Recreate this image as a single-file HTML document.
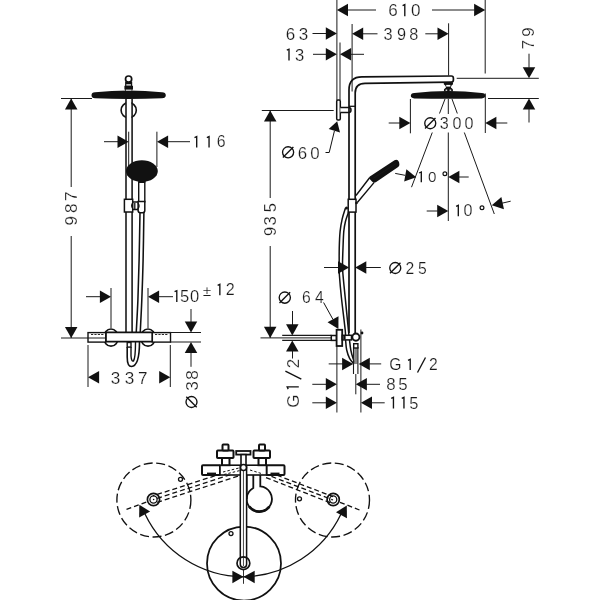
<!DOCTYPE html>
<html><head><meta charset="utf-8"><style>
html,body{margin:0;padding:0;background:#fff;}
svg{display:block;will-change:transform;}
line{stroke:#1a1a1a;}
.s{stroke:#111;fill:none;}
.sw{stroke:#111;fill:#fff;}
.f{fill:#111;stroke:none;}
text{font-family:"Liberation Sans",sans-serif;fill:#1a1a1a;text-anchor:middle;stroke:#fff;stroke-width:0.2px;}
</style></head><body>
<svg width="600" height="600" viewBox="0 0 600 600">
<rect width="600" height="600" fill="#fff"/>
<line x1="61.00" y1="98.50" x2="92.00" y2="98.50" stroke-width="1.0" />
<line x1="61.00" y1="338.00" x2="90.00" y2="338.00" stroke-width="1.0" />
<line x1="71.20" y1="98.50" x2="71.20" y2="187.00" stroke-width="1.0" />
<line x1="71.20" y1="236.00" x2="71.20" y2="338.00" stroke-width="1.0" />
<polygon class="f" points="71.20,98.50 77.45,109.60 64.95,109.60"/>
<polygon class="f" points="71.20,338.00 64.95,326.90 77.45,326.90"/>
<g transform="translate(76.50,0) rotate(-90)">
<text x="-220.75" y="0" font-size="17.14">9</text>
<text x="-208.25" y="0" font-size="17.14">8</text>
<text x="-196.25" y="0" font-size="17.14">7</text>
</g>
<path class="f" d="M95,92.2 Q128.5,89 162,92.2 Q165.8,92.4 165.8,95.2 Q165.8,98 162,98.3 Q128.5,99.8 95,98.3 Q91.5,98 91.5,95.2 Q91.5,92.4 95,92.2 Z"/>
<rect class="f" x="125.1" y="81.6" width="7.1" height="9.4"/>
<rect class="f" x="124.4" y="85.8" width="8.6" height="3.8"/>
<circle class="sw" stroke-width="1.7" cx="128.6" cy="79.1" r="3.1"/>
<rect fill="#fff" x="126.3" y="84.3" width="4.6" height="1.2"/>
<rect fill="#fff" x="125.8" y="89.6" width="5.8" height="1.1"/>
<circle class="s" stroke-width="1.6" cx="128.7" cy="110.2" r="7.6"/>
<rect fill="#fff" x="126" y="99" width="5.4" height="233"/>
<line x1="126.00" y1="98.70" x2="126.00" y2="333.00" stroke-width="1.6" />
<line x1="132.10" y1="98.70" x2="132.10" y2="333.00" stroke-width="1.6" />
<line x1="128.70" y1="131.70" x2="128.70" y2="166.00" stroke-width="1.0" />
<line x1="156.90" y1="131.70" x2="156.90" y2="167.00" stroke-width="1.0" />
<line x1="104.00" y1="141.70" x2="118.00" y2="141.70" stroke-width="1.0" />
<line x1="168.00" y1="141.70" x2="190.00" y2="141.70" stroke-width="1.0" />
<polygon class="f" points="128.60,141.70 117.50,147.95 117.50,135.45"/>
<polygon class="f" points="157.00,141.70 168.10,135.45 168.10,147.95"/>
<path class="s" stroke-width="1.35" d="M194.50,137.60 L196.70,136.60 L196.70,147.40"/>
<path class="s" stroke-width="1.35" d="M206.85,137.60 L209.05,136.60 L209.05,147.40"/>
<text x="221.15" y="147.40" font-size="15.86">6</text>
<ellipse class="f" cx="141.9" cy="171.1" rx="15.9" ry="10.8"/>
<path class="f" d="M137.5,179 L146.5,179 L144.6,184.2 L139.2,184.2 Z"/>
<rect class="sw" stroke-width="1.4" x="138.7" y="182.3" width="6.1" height="19.5"/>
<path class="s" stroke-width="1.55" d="M140.00,212.00 C139.85,220.00 139.45,245.33 139.10,260.00 C138.75,274.67 138.38,287.83 137.90,300.00 C137.42,312.17 136.48,327.50 136.20,333.00"/>
<path class="s" stroke-width="1.55" d="M143.90,212.00 C143.77,220.00 143.45,245.33 143.10,260.00 C142.75,274.67 142.28,287.83 141.80,300.00 C141.32,312.17 140.47,327.50 140.20,333.00"/>
<rect class="sw" stroke-width="1.5" x="124.4" y="199.3" width="8.3" height="12.7"/>
<path class="sw" stroke-width="1.5" d="M138.1,201.6 L144.8,201.6 L144.8,210.5 Q144.8,212.7 142.6,212.7 L140.3,212.7 Q138.1,212.7 138.1,210.5 Z"/>
<path class="s" stroke-width="1.3" d="M132.7,202 L138.1,202 M132.7,209.5 L138.1,209.5 M132.8,203 Q130.6,205.8 132.8,208.6 M137.9,203.2 Q140.2,206 137.9,208.8 M134.8,203 L134.8,209"/>
<line x1="111.00" y1="288.00" x2="111.00" y2="328.00" stroke-width="1.0" />
<line x1="148.00" y1="288.00" x2="148.00" y2="328.00" stroke-width="1.0" />
<line x1="86.00" y1="296.70" x2="100.50" y2="296.70" stroke-width="1.0" />
<line x1="158.50" y1="296.70" x2="173.00" y2="296.70" stroke-width="1.0" />
<polygon class="f" points="111.00,296.70 99.90,302.95 99.90,290.45"/>
<polygon class="f" points="148.00,296.70 159.10,290.45 159.10,302.95"/>
<path class="s" stroke-width="1.35" d="M174.60,291.70 L176.80,290.70 L176.80,302.00"/>
<text x="184.65" y="302.00" font-size="16.57">5</text>
<text x="194.65" y="302.00" font-size="16.57">0</text>
<text x="207" y="295.5" font-size="15.5" text-anchor="middle">±</text>
<path class="s" stroke-width="1.35" d="M217.65,285.30 L219.85,284.30 L219.85,295.30"/>
<text x="230.30" y="295.30" font-size="16.14">2</text>
<ellipse class="s" stroke-width="1.7" cx="111" cy="337.6" rx="7.3" ry="8.6"/>
<ellipse class="s" stroke-width="1.7" cx="148" cy="337.6" rx="7.3" ry="8.6"/>
<rect class="sw" stroke-width="1.4" x="88" y="332.6" width="17.8" height="9.5"/>
<rect class="sw" stroke-width="1.4" x="152.2" y="332.6" width="18.3" height="9.5"/>
<line x1="88.00" y1="338.00" x2="106.00" y2="338.00" stroke-width="1.0" />
<rect class="sw" stroke-width="1.7" x="106" y="332.4" width="46.2" height="9.3" rx="1"/>
<path class="s" stroke-width="0.9" stroke-dasharray="2.2,1.2" d="M91,334.5 L103.5,334.5 M155,334.5 L167.5,334.5"/>
<path class="s" stroke-width="1.6" d="M127.2,347 L127.2,357 Q127.2,366.5 131.5,366.5 Q139.5,366 139.5,342"/>
<path class="s" stroke-width="1.4" d="M131,347 L131,356 Q131.5,362 133.5,361 Q135.5,358 135.5,342"/>
<rect class="sw" stroke-width="1.4" x="127.2" y="342.5" width="3.8" height="4.6"/>
<line x1="88.00" y1="345.00" x2="88.00" y2="387.00" stroke-width="1.0" />
<line x1="170.30" y1="345.00" x2="170.30" y2="387.00" stroke-width="1.0" />
<polygon class="f" points="88.00,377.30 99.10,371.05 99.10,383.55"/>
<polygon class="f" points="170.30,377.30 159.20,383.55 159.20,371.05"/>
<text x="115.40" y="383.50" font-size="17.14">3</text>
<text x="129.40" y="383.50" font-size="17.14">3</text>
<text x="142.75" y="383.50" font-size="17.14">7</text>
<line x1="170.00" y1="332.50" x2="201.00" y2="332.50" stroke-width="1.0" />
<line x1="170.00" y1="342.00" x2="201.00" y2="342.00" stroke-width="1.0" />
<line x1="191.00" y1="309.00" x2="191.00" y2="322.00" stroke-width="1.0" />
<line x1="191.00" y1="352.00" x2="191.00" y2="366.80" stroke-width="1.0" />
<polygon class="f" points="191.00,332.50 184.75,321.40 197.25,321.40"/>
<polygon class="f" points="191.00,342.00 197.25,353.10 184.75,353.10"/>
<g transform="translate(197.50,0) rotate(-90)">
<circle class="s" stroke-width="1.35" cx="-402.00" cy="-6.00" r="5.5"/>
<line class="s" stroke-width="1.35" x1="-407.23" y1="-0.78" x2="-396.77" y2="-11.22"/>
<text x="-386.00" y="0" font-size="17.14">3</text>
<text x="-374.90" y="0" font-size="17.14">8</text>
</g>
<line x1="336.90" y1="0.00" x2="336.90" y2="100.00" stroke-width="1.0" />
<line x1="340.00" y1="42.50" x2="340.00" y2="100.00" stroke-width="1.0" />
<line x1="352.10" y1="24.00" x2="352.10" y2="91.50" stroke-width="1.0" />
<line x1="448.60" y1="23.30" x2="448.60" y2="75.50" stroke-width="1.0" />
<line x1="485.20" y1="0.00" x2="485.20" y2="73.50" stroke-width="1.0" />
<line x1="456.70" y1="78.30" x2="538.80" y2="78.30" stroke-width="1.0" />
<line x1="488.00" y1="98.50" x2="538.80" y2="98.50" stroke-width="1.0" />
<line x1="410.40" y1="99.00" x2="410.40" y2="133.30" stroke-width="1.0" />
<line x1="485.30" y1="93.50" x2="485.30" y2="133.00" stroke-width="1.0" />
<line x1="261.80" y1="110.50" x2="333.70" y2="110.50" stroke-width="1.0" />
<line x1="347.50" y1="10.00" x2="376.00" y2="10.00" stroke-width="1.0" />
<line x1="432.00" y1="10.00" x2="474.50" y2="10.00" stroke-width="1.0" />
<polygon class="f" points="336.90,10.00 348.00,3.75 348.00,16.25"/>
<polygon class="f" points="485.20,10.00 474.10,16.25 474.10,3.75"/>
<text x="393.10" y="16.25" font-size="17.07">6</text>
<path class="s" stroke-width="1.35" d="M402.60,5.60 L404.80,4.60 L404.80,16.25"/>
<text x="415.75" y="16.25" font-size="17.07">0</text>
<line x1="312.50" y1="33.50" x2="326.00" y2="33.50" stroke-width="1.0" />
<polygon class="f" points="336.90,33.50 325.80,39.75 325.80,27.25"/>
<text x="290.60" y="39.90" font-size="17.00">6</text>
<text x="303.50" y="39.90" font-size="17.00">3</text>
<line x1="362.50" y1="33.80" x2="377.50" y2="33.80" stroke-width="1.0" />
<line x1="425.30" y1="33.80" x2="438.00" y2="33.80" stroke-width="1.0" />
<polygon class="f" points="352.10,33.80 363.20,27.55 363.20,40.05"/>
<polygon class="f" points="448.60,33.80 437.50,40.05 437.50,27.55"/>
<text x="388.10" y="39.70" font-size="16.29">3</text>
<text x="401.50" y="39.70" font-size="16.29">9</text>
<text x="413.75" y="39.70" font-size="16.29">8</text>
<line x1="313.00" y1="54.30" x2="326.00" y2="54.30" stroke-width="1.0" />
<polygon class="f" points="336.90,54.30 325.80,60.55 325.80,48.05"/>
<polygon class="f" points="340.00,54.30 351.10,48.05 351.10,60.55"/>
<line x1="350.50" y1="54.30" x2="364.00" y2="54.30" stroke-width="1.0" />
<path class="s" stroke-width="1.35" d="M286.80,50.20 L289.00,49.20 L289.00,60.50"/>
<text x="299.70" y="60.50" font-size="16.57">3</text>
<line x1="529.00" y1="53.70" x2="529.00" y2="67.70" stroke-width="1.0" />
<polygon class="f" points="529.00,78.30 522.75,67.20 535.25,67.20"/>
<polygon class="f" points="529.00,98.50 535.25,109.60 522.75,109.60"/>
<line x1="529.00" y1="109.00" x2="529.00" y2="122.50" stroke-width="1.0" />
<g transform="translate(533.70,0) rotate(-90)">
<text x="-44.70" y="0" font-size="16.71">7</text>
<text x="-32.00" y="0" font-size="16.71">9</text>
</g>
<line x1="388.70" y1="123.00" x2="400.00" y2="123.00" stroke-width="1.0" />
<polygon class="f" points="410.40,123.00 399.30,129.25 399.30,116.75"/>
<polygon class="f" points="485.30,123.00 496.40,116.75 496.40,129.25"/>
<line x1="496.00" y1="123.00" x2="507.30" y2="123.00" stroke-width="1.0" />
<circle class="s" stroke-width="1.35" cx="430.25" cy="123.25" r="5.5"/>
<line class="s" stroke-width="1.35" x1="425.02" y1="128.47" x2="435.48" y2="118.03"/>
<text x="444.25" y="128.80" font-size="16.14">3</text>
<text x="457.00" y="128.80" font-size="16.14">0</text>
<text x="469.00" y="128.80" font-size="16.14">0</text>
<rect class="sw" stroke-width="1.5" x="336.7" y="100" width="3.6" height="20" rx="1.2"/>
<path class="sw" stroke-width="1.5" d="M340.3,107.5 L348.7,107.5 Q351,107.5 351,110 Q351,112.5 348.7,112.5 L340.3,112.5"/>
<path class="s" stroke-width="1.7" d="M349,333 L349,90 Q349,76.9 362,76.9 L451.3,76 Q453.4,76 453.4,78.2 L453.4,80 Q453.4,82.2 451,82.2 L365,83.3 Q355.2,83.3 355.2,93 L355.2,333"/>
<line class="s" stroke-width="1.3" x1="349" y1="106.3" x2="355.2" y2="106.3"/>
<path class="f" d="M443.8,82.2 L453,82.2 L453,84.2 Q450.8,85.8 450.9,87.4 L452.8,89.3 L453,91.6 L443.9,91.6 L444,89.3 L446,87.4 Q446,85.8 443.8,84.2 Z"/>
<rect fill="#fff" x="446.2" y="84.9" width="4.2" height="1.7"/>
<rect fill="#fff" x="445.6" y="89.6" width="1.6" height="1.2"/>
<rect fill="#fff" x="449.6" y="89.6" width="1.6" height="1.2"/>
<path class="f" d="M414.3,93 Q448,89.2 481.8,93 Q485.4,93.2 485.4,95.8 Q485.4,98.2 481.8,98.4 Q448,99.3 414.3,98.4 Q410.8,98.2 410.8,95.8 Q410.8,93.2 414.3,93 Z"/>
<line x1="448.30" y1="99.00" x2="448.30" y2="114.00" stroke-width="1.0" />
<line x1="448.30" y1="132.50" x2="448.30" y2="221.00" stroke-width="1.0" />
<line x1="445.00" y1="99.00" x2="439.49" y2="113.50" stroke-width="1.0" />
<line x1="432.28" y1="132.50" x2="411.50" y2="187.20" stroke-width="1.0" />
<line x1="452.00" y1="99.00" x2="457.33" y2="113.50" stroke-width="1.0" />
<line x1="464.32" y1="132.50" x2="494.30" y2="214.00" stroke-width="1.0" />
<line x1="395.20" y1="173.40" x2="405.00" y2="175.30" stroke-width="1.0" />
<polygon class="f" points="416.20,177.30 404.16,181.47 406.39,169.17"/>
<polygon class="f" points="448.30,177.00 459.40,170.75 459.40,183.25"/>
<line x1="458.80" y1="177.00" x2="468.70" y2="177.00" stroke-width="1.0" />
<path class="s" stroke-width="1.35" d="M419.10,173.00 L421.30,172.00 L421.30,182.30"/>
<text x="432.30" y="182.30" font-size="15.14">0</text>
<circle class="s" stroke-width="1.2" cx="444.9" cy="173.7" r="1.9"/>
<line x1="426.70" y1="211.00" x2="437.80" y2="211.00" stroke-width="1.0" />
<polygon class="f" points="448.30,211.00 437.20,217.25 437.20,204.75"/>
<line x1="510.70" y1="201.20" x2="502.00" y2="203.20" stroke-width="1.0" />
<polygon class="f" points="491.80,205.30 501.37,196.90 503.95,209.13"/>
<path class="s" stroke-width="1.35" d="M456.10,206.30 L458.30,205.30 L458.30,216.30"/>
<text x="468.00" y="216.30" font-size="16.14">0</text>
<circle class="s" stroke-width="1.2" cx="482" cy="207.7" r="1.9"/>
<line x1="270.20" y1="110.50" x2="270.20" y2="198.00" stroke-width="1.0" />
<line x1="270.20" y1="246.00" x2="270.20" y2="337.90" stroke-width="1.0" />
<polygon class="f" points="270.20,110.50 276.45,121.60 263.95,121.60"/>
<polygon class="f" points="270.20,337.90 263.95,326.80 276.45,326.80"/>
<g transform="translate(275.60,0) rotate(-90)">
<text x="-231.40" y="0" font-size="16.57">9</text>
<text x="-221.00" y="0" font-size="16.57">3</text>
<text x="-207.70" y="0" font-size="16.57">5</text>
</g>
<circle class="s" stroke-width="1.35" cx="288.10" cy="152.30" r="5.55"/>
<line class="s" stroke-width="1.35" x1="282.83" y1="157.57" x2="293.37" y2="147.03"/>
<text x="302.50" y="158.50" font-size="16.86">6</text>
<text x="315.00" y="158.50" font-size="16.86">0</text>
<path class="s" stroke-width="1" d="M325.5,152.5 L329.2,152.5 L334.4,131"/>
<polygon class="f" points="337.20,121.30 340.04,132.38 328.73,128.99"/>
<path class="f" d="M369.8,176.4 L394.5,160.2 Q397.6,158.7 399,162 L399.4,164.3 Q399.6,166.2 397.8,167.2 L376.2,181.9 Q373.6,183.2 372,181.6 L369.3,178.5 Q368.7,177.3 369.8,176.4 Z"/>
<line x1="373.5" y1="178.2" x2="396" y2="163.6" stroke="#444" stroke-width="0.9"/>
<path class="s" stroke-width="1.4" d="M356,195.5 L369.6,177.8 M357.3,202.5 L374.2,182.4"/>
<rect class="sw" stroke-width="1.5" x="348.2" y="199.3" width="7.8" height="12.8"/>
<circle class="f" cx="356.5" cy="203" r="1.3"/>
<path class="s" stroke-width="1.5" d="M345.50,208.00 C344.95,209.80 343.10,214.92 342.20,218.80 C341.30,222.68 340.59,226.43 340.10,231.30 C339.61,236.17 339.40,242.38 339.25,248.00 C339.10,253.62 339.18,260.50 339.20,265.00 C339.22,269.50 339.03,269.58 339.40,275.00 C339.77,280.42 340.43,288.33 341.40,297.50 C342.37,306.67 344.50,322.92 345.20,330.00 C345.90,337.08 345.35,336.67 345.60,340.00 C345.85,343.33 346.03,346.95 346.70,350.00 C347.37,353.05 348.38,355.97 349.60,358.30 C350.82,360.63 353.27,363.05 354.00,364.00"/>
<path class="s" stroke-width="1.5" d="M348.40,212.60 C347.92,214.05 346.27,218.18 345.50,221.30 C344.73,224.42 344.22,226.85 343.80,231.30 C343.38,235.75 343.22,242.38 343.00,248.00 C342.78,253.62 342.50,260.50 342.50,265.00 C342.50,269.50 342.55,269.58 343.00,275.00 C343.45,280.42 344.30,288.33 345.20,297.50 C346.10,306.67 347.68,322.92 348.40,330.00 C349.12,337.08 349.10,336.67 349.50,340.00 C349.90,343.33 350.22,346.95 350.80,350.00 C351.38,353.05 352.22,355.97 353.00,358.30 C353.78,360.63 355.08,363.05 355.50,364.00"/>
<circle class="f" cx="346.5" cy="208" r="1.5"/>
<line x1="324.00" y1="267.50" x2="338.50" y2="267.50" stroke-width="1.0" />
<polygon class="f" points="349.10,267.50 338.00,273.75 338.00,261.25"/>
<polygon class="f" points="355.20,267.50 366.30,261.25 366.30,273.75"/>
<line x1="365.60" y1="267.50" x2="380.80" y2="267.50" stroke-width="1.0" />
<circle class="s" stroke-width="1.35" cx="395.25" cy="268.00" r="5.5"/>
<line class="s" stroke-width="1.35" x1="390.02" y1="273.23" x2="400.48" y2="262.77"/>
<text x="409.75" y="273.50" font-size="15.71">2</text>
<text x="422.35" y="273.50" font-size="15.71">5</text>
<circle class="s" stroke-width="1.35" cx="284.80" cy="297.60" r="5.6"/>
<line class="s" stroke-width="1.35" x1="279.48" y1="302.92" x2="290.12" y2="292.28"/>
<text x="306.40" y="302.90" font-size="15.71">6</text>
<text x="319.30" y="302.90" font-size="15.71">4</text>
<line class="s" stroke-width="1" x1="323.6" y1="302.5" x2="333" y2="319.5"/>
<polygon class="f" points="338.40,329.00 327.56,322.31 338.50,316.26"/>
<line x1="292.50" y1="311.00" x2="292.50" y2="325.00" stroke-width="1.0" />
<polygon class="f" points="292.30,335.40 286.05,324.30 298.55,324.30"/>
<polygon class="f" points="292.30,340.40 298.55,351.50 286.05,351.50"/>
<line x1="292.50" y1="351.00" x2="292.50" y2="358.50" stroke-width="1.0" />
<g transform="translate(298.80,0) rotate(-90)">
<text x="-401.10" y="0" font-size="17.00">G</text>
<path class="s" stroke-width="1.35" d="M-389.10,-10.60 L-386.90,-11.60 L-386.90,0.00"/>
<line class="s" stroke-width="1.35" x1="-379.20" y1="2.5" x2="-371.20" y2="-13.40"/>
<text x="-363.50" y="0" font-size="17.00">2</text>
</g>
<line x1="260.50" y1="337.90" x2="331.50" y2="337.90" stroke-width="1.0" />
<line x1="282.20" y1="335.40" x2="331.50" y2="335.40" stroke-width="1.2" />
<line x1="282.20" y1="340.40" x2="331.50" y2="340.40" stroke-width="1.2" />
<rect class="sw" stroke-width="1.5" x="331.3" y="335.5" width="5.2" height="4.9"/>
<rect class="sw" stroke-width="1.8" x="336.6" y="329.8" width="5.6" height="16.2"/>
<rect class="sw" stroke-width="1.5" x="342.2" y="335.3" width="9.3" height="4.6"/>
<rect class="f" x="343.2" y="335.8" width="2.4" height="3.6"/>
<rect fill="#888" x="354.2" y="348" width="3.3" height="16"/>
<line x1="353.50" y1="347.00" x2="353.50" y2="374.00" stroke-width="1.1" />
<line x1="357.90" y1="347.00" x2="357.90" y2="374.00" stroke-width="1.1" />
<circle class="sw" stroke-width="1.9" cx="355.9" cy="337.1" r="3.6"/>
<rect class="sw" stroke-width="1.4" x="353.7" y="343.7" width="4.2" height="4.3"/>
<circle class="f" cx="362" cy="333" r="1.4"/>
<line x1="336.90" y1="346.00" x2="336.90" y2="412.50" stroke-width="1.0" />
<line x1="360.90" y1="329.50" x2="360.90" y2="412.50" stroke-width="1.0" />
<line x1="355.80" y1="374.00" x2="355.80" y2="394.30" stroke-width="1.0" />
<line x1="328.70" y1="363.90" x2="343.00" y2="363.90" stroke-width="1.0" />
<polygon class="f" points="353.20,363.90 342.10,370.15 342.10,357.65"/>
<polygon class="f" points="358.70,363.90 369.80,357.65 369.80,370.15"/>
<line x1="368.50" y1="363.90" x2="381.20" y2="363.90" stroke-width="1.0" />
<text x="395.25" y="370.00" font-size="15.71">G</text>
<path class="s" stroke-width="1.35" d="M408.00,360.30 L410.20,359.30 L410.20,370.00"/>
<line class="s" stroke-width="1.35" x1="417.50" y1="372.50" x2="425.50" y2="357.50"/>
<text x="433.25" y="370.00" font-size="15.71">2</text>
<line x1="312.30" y1="384.30" x2="326.30" y2="384.30" stroke-width="1.0" />
<polygon class="f" points="336.90,384.30 325.80,390.55 325.80,378.05"/>
<polygon class="f" points="355.80,384.30 366.90,378.05 366.90,390.55"/>
<line x1="366.00" y1="384.30" x2="380.00" y2="384.30" stroke-width="1.0" />
<text x="391.00" y="390.30" font-size="16.86">8</text>
<text x="403.00" y="390.30" font-size="16.86">5</text>
<line x1="312.30" y1="402.80" x2="326.30" y2="402.80" stroke-width="1.0" />
<polygon class="f" points="336.90,402.80 325.80,409.05 325.80,396.55"/>
<polygon class="f" points="360.90,402.80 372.00,396.55 372.00,409.05"/>
<line x1="371.50" y1="402.80" x2="384.70" y2="402.80" stroke-width="1.0" />
<path class="s" stroke-width="1.35" d="M391.25,398.30 L393.45,397.30 L393.45,408.50"/>
<path class="s" stroke-width="1.35" d="M401.75,398.30 L403.95,397.30 L403.95,408.50"/>
<text x="413.75" y="408.50" font-size="16.43">5</text>
<circle class="s" stroke-width="1.35" stroke-dasharray="9,3.6" cx="153.9" cy="500" r="37"/>
<circle class="s" stroke-width="1.35" stroke-dasharray="9,3.6" cx="332.5" cy="500" r="37"/>
<circle class="s" stroke-width="1.75" cx="244" cy="563.5" r="37"/>
<path class="s" stroke-width="1.3" d="M145,514 A110.4,110.4 0 0 0 243.5,576.8 A110.4,110.4 0 0 0 341,514"/>
<polygon class="f" points="139.30,504.80 150.13,511.51 139.17,517.54"/>
<polygon class="f" points="346.80,505.50 346.93,518.24 335.97,512.21"/>
<path class="s" stroke-width="1.3" stroke-dasharray="5,3" d="M238,468.35 L153,495.8 M238,472.25 L153,499.7 M238,476.15 L155,503"/>
<path class="s" stroke-width="1.3" stroke-dasharray="5,3" d="M126.5,509.3 L148,501.5"/>
<path class="s" stroke-width="1.3" stroke-dasharray="5,3" d="M262,469.5 L333,496.6 M264,473.6 L333,500 M266,477.6 L331,503"/>
<path class="s" stroke-width="1.3" stroke-dasharray="5,3" d="M359.5,510 L338,501.5"/>
<circle class="s" stroke-width="1.7" cx="153.5" cy="499.5" r="6.1"/>
<circle class="s" stroke-width="1.3" cx="153.5" cy="499.5" r="3.6"/>
<circle class="s" stroke-width="1.7" cx="333.2" cy="499.5" r="6.1"/>
<circle class="s" stroke-width="1.3" cx="333.2" cy="499.5" r="3.6"/>
<circle class="s" stroke-width="1.3" cx="180.5" cy="479.3" r="2"/>
<circle class="s" stroke-width="1.3" cx="299.5" cy="498.8" r="2"/>
<path class="sw" stroke-width="1.8" d="M253.3,474 L253.3,487.92 A12.6,12.6 0 1 0 260.3,486.44 L260.3,474"/>
<path class="s" stroke-width="2.6" d="M249.18,506.50 A12.6,12.6 0 0 0 269.42,506.50"/>
<line class="s" stroke-width="1.6" x1="246.8" y1="475" x2="246.8" y2="499.0"/>
<rect class="sw" stroke-width="2" x="202" y="465.2" width="18" height="9.8" rx="1"/>
<rect class="sw" stroke-width="2" x="266.5" y="465.2" width="18" height="9.8" rx="1"/>
<rect class="sw" stroke-width="1.6" x="220" y="465.2" width="46.5" height="9.8"/>
<path class="s" stroke-width="1" stroke-dasharray="2.5,2" d="M223,472 L239,468 M224,474.5 L240,470.5 M250,470 L263,474"/>
<rect class="f" x="207" y="472.6" width="9" height="1.6"/>
<rect class="f" x="270.5" y="472.6" width="9" height="1.6"/>
<rect class="sw" stroke-width="2" x="222" y="458" width="7.5" height="7.2"/>
<rect class="sw" stroke-width="2" x="217" y="450.6" width="16.5" height="7.4" rx="0.8"/>
<rect class="sw" stroke-width="2" x="222.5" y="444.6" width="6" height="6" rx="0.8"/>
<rect class="sw" stroke-width="2" x="258.5" y="458" width="7.5" height="7.2"/>
<rect class="sw" stroke-width="2" x="253.5" y="450.6" width="16.5" height="7.4" rx="0.8"/>
<rect class="sw" stroke-width="2" x="259" y="444.6" width="6" height="6" rx="0.8"/>
<rect class="sw" stroke-width="1.8" x="236.2" y="451" width="14.3" height="3.6"/>
<rect class="sw" stroke-width="1.6" x="241" y="454.6" width="5" height="10.6"/>
<path class="sw" stroke-width="1.5" d="M240.3,466 L240.3,564.3 A3.15,3.15 0 0 0 246.6,564.3 L246.6,466 Z"/>
<line x1="243.45" y1="470" x2="243.45" y2="566" stroke="#333" stroke-width="0.8"/>
<circle class="sw" stroke-width="1.6" cx="243.5" cy="467.5" r="3"/>
<circle class="s" stroke-width="1.7" cx="243.4" cy="563.2" r="6.4"/>
<circle class="s" stroke-width="1.3" cx="231" cy="533.6" r="2"/>
<polygon class="f" points="232.4,570.8 243.5,576.8 232.4,583.2"/>
<polygon class="f" points="254.7,570.8 243.5,576.8 254.7,583.2"/>
<line x1="243.50" y1="569.50" x2="243.50" y2="583.80" stroke-width="0.9" />
</svg></body></html>
